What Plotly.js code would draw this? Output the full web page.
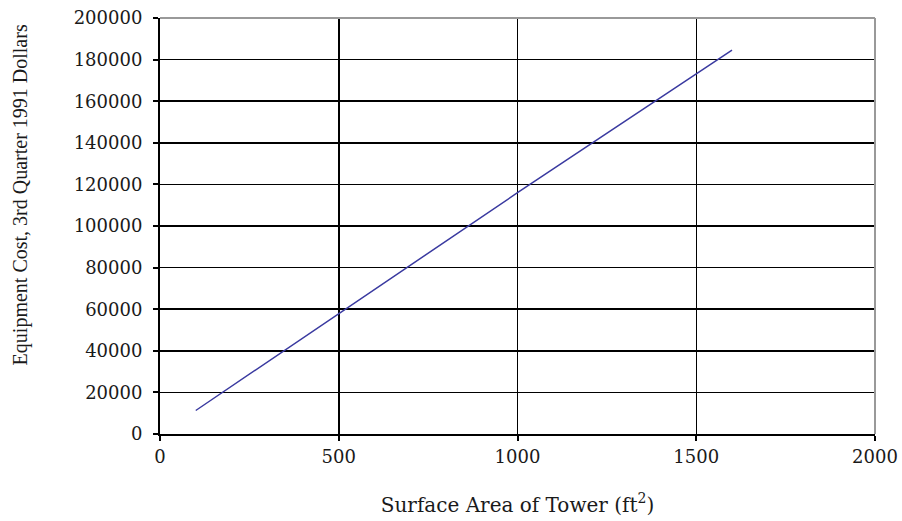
<!DOCTYPE html>
<html>
<head>
<meta charset="utf-8">
<script src="https://cdn.plot.ly/plotly-3.0.1.min.js"></script>
<style>html,body{margin:0;padding:0;background:#fff;}#chart{width:902px;height:521px;}</style>
</head>
<body>
<div id="chart"></div>
<script>
const surfaceArea = [100, 500, 1000, 1600];
const equipmentCost = [11300, 58000, 116000, 184500];
const xTicks = [0, 500, 1000, 1500, 2000];
const yTicks = [0, 20000, 40000, 60000, 80000, 100000, 120000, 140000, 160000, 180000, 200000];

const tickFont = {family: '"DejaVu Serif", serif', size: 18, color: '#1a1a1a'};
const xTitleFont = {family: '"DejaVu Serif", serif', size: 20, color: '#1a1a1a'};
const yTitleFont = {family: '"Liberation Serif", "Times New Roman", serif', size: 20, color: '#1a1a1a'};

const trace = {
  x: surfaceArea, y: equipmentCost, type: 'scatter', mode: 'lines',
  line: {color: '#3a3aa0', width: 1.5}, hoverinfo: 'skip'
};

const layout = {
  width: 902, height: 521,
  margin: {l: 160, r: 27, t: 18, b: 87},
  paper_bgcolor: '#fff', plot_bgcolor: '#fff',
  font: tickFont,
  showlegend: false,
  xaxis: {
    range: [0, 2000], tickvals: xTicks, ticktext: xTicks.map(String),
    showgrid: true, gridcolor: '#000', gridwidth: 1.5,
    showline: true, linecolor: '#000', linewidth: 2,
    ticks: 'outside', ticklen: 5, tickcolor: '#000', tickwidth: 2,
    zeroline: false, tickfont: tickFont,
    title: {text: 'Surface Area of Tower (ft<sup>2</sup>)', font: xTitleFont, standoff: 32}
  },
  yaxis: {
    range: [0, 200000], tickvals: yTicks, ticktext: yTicks.map(String),
    showgrid: true, gridcolor: '#000', gridwidth: 1.5,
    showline: true, linecolor: '#000', linewidth: 2,
    ticks: 'outside', ticklen: 5, tickcolor: '#000', tickwidth: 2,
    ticklabelstandoff: 7,
    zeroline: false, tickfont: tickFont
  },
  shapes: [
    {type: 'line', xref: 'paper', yref: 'paper', x0: 0, x1: 1, y0: 1, y1: 1, line: {color: '#999', width: 2}, layer: 'above'},
    {type: 'line', xref: 'paper', yref: 'paper', x0: 1, x1: 1, y0: 0, y1: 1, line: {color: '#999', width: 2}, layer: 'above'}
  ],
  annotations: [{
    text: 'Equipment Cost, 3rd Quarter 1991 Dollars',
    xref: 'paper', yref: 'paper', x: -0.195, y: 0.575,
    xanchor: 'center', yanchor: 'middle', textangle: -90,
    showarrow: false, font: yTitleFont
  }]
};

Plotly.newPlot('chart', [trace], layout, {staticPlot: true, displayModeBar: false});
</script>
</body>
</html>
